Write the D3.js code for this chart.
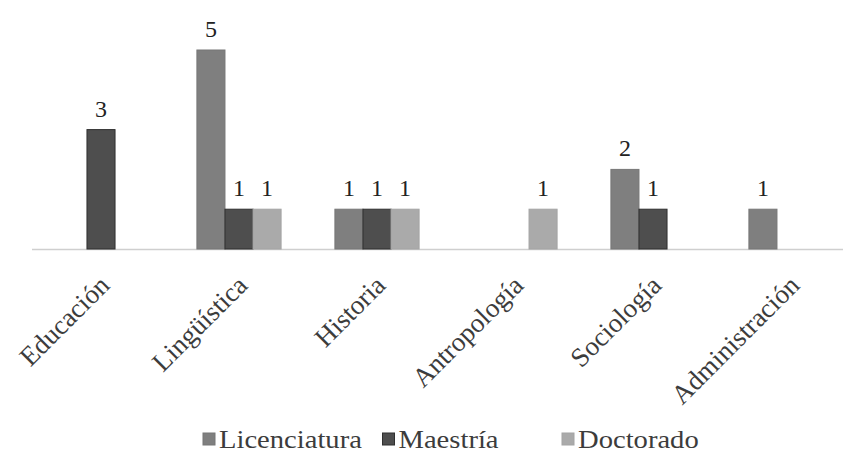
<!DOCTYPE html>
<html>
<head>
<meta charset="utf-8">
<script src="https://cdn.jsdelivr.net/npm/d3@7"></script>
<style>
  html, body { margin: 0; padding: 0; background: #fff; }
  svg { display: block; }
  text { font-family: "Liberation Serif", "Times New Roman", serif; }
</style>
</head>
<body>
<div id="chart"></div>
<script>
// Number of theses by discipline and academic degree
const categories = ["Educación", "Lingüística", "Historia", "Antropología", "Sociología", "Administración"];
const seriesNames = ["Licenciatura", "Maestría", "Doctorado"];
const licenciatura = [null, 5, 1, null, 2, 1];
const maestria = [3, 1, 1, null, 1, null];
const doctorado = [null, 1, 1, 1, null, null];
const seriesValues = [licenciatura, maestria, doctorado];

const width = 843, height = 454;
const colors = ["#7f7f7f", "#4e4e4e", "#aaaaaa"];
const strokes = ["#777777", "#2f2f2f", "#a4a4a4"];

const svg = d3.select("#chart").append("svg")
  .attr("width", width).attr("height", height);

const x0 = d3.scaleBand().domain(categories).range([32, 860]).paddingInner(0).paddingOuter(0);
const x1 = d3.scaleBand().domain(seriesNames)
  .range([0, x0.bandwidth() * 0.61]);
const groupOffset = (x0.bandwidth() - x1.range()[1]) / 2;
const y = d3.scaleLinear().domain([0, 5]).range([249, 50]);

// baseline
svg.append("line")
  .attr("x1", 32).attr("x2", width)
  .attr("y1", y(0) + 0.5).attr("y2", y(0) + 0.5)
  .attr("stroke", "#cfcfcf").attr("stroke-width", 1.5);

const rows = [];
seriesNames.forEach((s, si) => {
  categories.forEach((c, ci) => {
    const v = seriesValues[si][ci];
    if (v != null) rows.push({ s, si, c, v });
  });
});

const bars = svg.append("g");
bars.selectAll("rect").data(rows).join("rect")
  .attr("x", d => x0(d.c) + groupOffset + x1(d.s))
  .attr("y", d => y(d.v))
  .attr("width", x1.bandwidth())
  .attr("height", d => y(0) - y(d.v))
  .attr("fill", d => colors[d.si])
  .attr("stroke", d => strokes[d.si])
  .attr("stroke-width", 1);

// value labels
svg.append("g").selectAll("text").data(rows).join("text")
  .attr("x", d => x0(d.c) + groupOffset + x1(d.s) + x1.bandwidth() / 2)
  .attr("y", d => y(d.v) - 13)
  .attr("text-anchor", "middle")
  .attr("font-size", 24)
  .attr("fill", "#222222")
  .text(d => d.v);

// category labels, rotated
const xAxis = svg.append("g");
xAxis.selectAll("text").data(categories).join("text")
  .attr("transform", d => `translate(${x0(d) + x0.bandwidth() / 2 + 10},${287}) rotate(-45)`)
  .attr("text-anchor", "end")
  .attr("font-size", 27)
  .attr("fill", "#3c3c3c")
  .text(d => d);

// legend
const legend = svg.append("g");
const legendStart = 203, legendStep = 179.5, legendY = 448;
seriesNames.forEach((s, i) => {
  const gx = legendStart + i * legendStep;
  legend.append("rect")
    .attr("x", gx).attr("y", legendY - 15)
    .attr("width", 12).attr("height", 12)
    .attr("fill", colors[i]).attr("stroke", strokes[i]);
  legend.append("text")
    .attr("transform", `translate(${gx + 16},${legendY}) scale(1.1,1)`)
    .attr("font-size", 26)
    .attr("fill", "#3c3c3c")
    .text(s);
});
</script>
</body>
</html>
